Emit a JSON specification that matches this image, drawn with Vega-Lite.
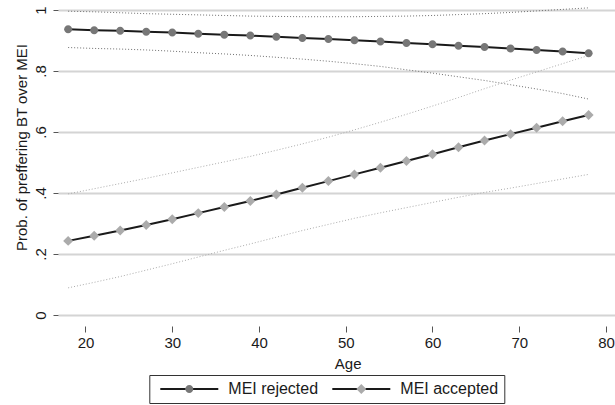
{
  "$schema": "https://vega.github.io/schema/vega-lite/v6.json",
  "width": 557,
  "height": 326,
  "autosize": {"type": "none"},
  "padding": {"left": 58, "top": 0, "right": 0, "bottom": 79},
  "background": "white",
  "config": {
    "font": "Liberation Sans",
    "view": {"stroke": null},
    "axis": {"labelFont": "Liberation Sans", "titleFont": "Liberation Sans", "labelColor": "#1a1a1a", "titleColor": "#1a1a1a", "titleFontWeight": "normal"},
    "legend": {"labelFont": "Liberation Sans"}
  },
  "data": {"values": [
    {"age": 18, "group": "MEI rejected", "p": 0.937, "lo": 0.877, "hi": 0.996},
    {"age": 21, "group": "MEI rejected", "p": 0.934, "lo": 0.874, "hi": 0.994},
    {"age": 24, "group": "MEI rejected", "p": 0.932, "lo": 0.872, "hi": 0.991},
    {"age": 27, "group": "MEI rejected", "p": 0.929, "lo": 0.869, "hi": 0.988},
    {"age": 30, "group": "MEI rejected", "p": 0.926, "lo": 0.865, "hi": 0.986},
    {"age": 33, "group": "MEI rejected", "p": 0.922, "lo": 0.860, "hi": 0.984},
    {"age": 36, "group": "MEI rejected", "p": 0.919, "lo": 0.856, "hi": 0.982},
    {"age": 39, "group": "MEI rejected", "p": 0.916, "lo": 0.851, "hi": 0.980},
    {"age": 42, "group": "MEI rejected", "p": 0.912, "lo": 0.845, "hi": 0.979},
    {"age": 45, "group": "MEI rejected", "p": 0.908, "lo": 0.839, "hi": 0.978},
    {"age": 48, "group": "MEI rejected", "p": 0.905, "lo": 0.832, "hi": 0.978},
    {"age": 51, "group": "MEI rejected", "p": 0.901, "lo": 0.824, "hi": 0.978},
    {"age": 54, "group": "MEI rejected", "p": 0.897, "lo": 0.815, "hi": 0.979},
    {"age": 57, "group": "MEI rejected", "p": 0.892, "lo": 0.804, "hi": 0.980},
    {"age": 60, "group": "MEI rejected", "p": 0.888, "lo": 0.793, "hi": 0.982},
    {"age": 63, "group": "MEI rejected", "p": 0.883, "lo": 0.781, "hi": 0.985},
    {"age": 66, "group": "MEI rejected", "p": 0.879, "lo": 0.769, "hi": 0.988},
    {"age": 69, "group": "MEI rejected", "p": 0.874, "lo": 0.755, "hi": 0.992},
    {"age": 72, "group": "MEI rejected", "p": 0.869, "lo": 0.741, "hi": 0.997},
    {"age": 75, "group": "MEI rejected", "p": 0.864, "lo": 0.726, "hi": 1.002},
    {"age": 78, "group": "MEI rejected", "p": 0.858, "lo": 0.708, "hi": 1.007},
    {"age": 18, "group": "MEI accepted", "p": 0.243, "lo": 0.089, "hi": 0.397},
    {"age": 21, "group": "MEI accepted", "p": 0.260, "lo": 0.107, "hi": 0.414},
    {"age": 24, "group": "MEI accepted", "p": 0.277, "lo": 0.126, "hi": 0.431},
    {"age": 27, "group": "MEI accepted", "p": 0.295, "lo": 0.147, "hi": 0.448},
    {"age": 30, "group": "MEI accepted", "p": 0.314, "lo": 0.168, "hi": 0.466},
    {"age": 33, "group": "MEI accepted", "p": 0.334, "lo": 0.190, "hi": 0.484},
    {"age": 36, "group": "MEI accepted", "p": 0.354, "lo": 0.212, "hi": 0.502},
    {"age": 39, "group": "MEI accepted", "p": 0.374, "lo": 0.233, "hi": 0.520},
    {"age": 42, "group": "MEI accepted", "p": 0.395, "lo": 0.255, "hi": 0.540},
    {"age": 45, "group": "MEI accepted", "p": 0.417, "lo": 0.277, "hi": 0.561},
    {"age": 48, "group": "MEI accepted", "p": 0.439, "lo": 0.297, "hi": 0.583},
    {"age": 51, "group": "MEI accepted", "p": 0.461, "lo": 0.317, "hi": 0.607},
    {"age": 54, "group": "MEI accepted", "p": 0.483, "lo": 0.335, "hi": 0.632},
    {"age": 57, "group": "MEI accepted", "p": 0.505, "lo": 0.352, "hi": 0.658},
    {"age": 60, "group": "MEI accepted", "p": 0.527, "lo": 0.369, "hi": 0.685},
    {"age": 63, "group": "MEI accepted", "p": 0.550, "lo": 0.386, "hi": 0.713},
    {"age": 66, "group": "MEI accepted", "p": 0.572, "lo": 0.402, "hi": 0.742},
    {"age": 69, "group": "MEI accepted", "p": 0.593, "lo": 0.416, "hi": 0.770},
    {"age": 72, "group": "MEI accepted", "p": 0.614, "lo": 0.431, "hi": 0.797},
    {"age": 75, "group": "MEI accepted", "p": 0.635, "lo": 0.446, "hi": 0.824},
    {"age": 78, "group": "MEI accepted", "p": 0.656, "lo": 0.461, "hi": 0.851}
  ]},
  "encoding": {
    "x": {
      "field": "age", "type": "quantitative",
      "scale": {"domain": [16.83, 81.04], "nice": false, "zero": false},
      "axis": {
        "values": [20, 30, 40, 50, 60, 70, 80], "grid": false, "domain": false,
        "tickSize": 6, "tickColor": "#555555", "tickWidth": 1,
        "labelFontSize": 15, "labelPadding": 3, "labelFlush": false, "labelOverlap": false,
        "title": "Age", "titleFontSize": 15, "titleX": 289.7, "titleY": 42,
        "titleBaseline": "alphabetic", "titleAlign": "center", "titleAnchor": null
      }
    }
  },
  "layer": [
    {
      "transform": [{"filter": "datum.group === 'MEI rejected'"}],
      "mark": {"type": "line", "strokeWidth": 1, "strokeDash": [1, 2], "color": "#707070"},
      "encoding": {
        "y": {
          "field": "lo", "type": "quantitative",
          "scale": {"domain": [-0.0361, 1.0328], "nice": false, "zero": false},
          "axis": {
            "values": [0, 0.2, 0.4, 0.6, 0.8, 1], "grid": true, "gridColor": "#d4d4d4", "gridWidth": 2,
            "domain": false, "tickSize": 5, "tickColor": "#555555", "tickWidth": 1,
            "labelAngle": -90, "labelAlign": "center", "labelBaseline": "alphabetic",
            "labelFontSize": 15, "labelPadding": 8,
            "labelExpr": "datum.value == 0 ? '0' : datum.value == 1 ? '1' : replace(format(datum.value, '.1f'), '0.', '.')",
            "title": "Prob. of preffering BT over MEI", "titleFontSize": 15, "titleAngle": -90,
            "titleX": -32, "titleY": 147, "titleAlign": "center", "titleBaseline": "alphabetic", "titleAnchor": null
          }
        }
      }
    },
    {
      "transform": [{"filter": "datum.group === 'MEI rejected'"}],
      "mark": {"type": "line", "strokeWidth": 1, "strokeDash": [1, 2], "color": "#707070"},
      "encoding": {"y": {"field": "hi", "type": "quantitative"}}
    },
    {
      "transform": [{"filter": "datum.group === 'MEI accepted'"}],
      "mark": {"type": "line", "strokeWidth": 1, "strokeDash": [1, 2], "color": "#ababab"},
      "encoding": {"y": {"field": "lo", "type": "quantitative"}}
    },
    {
      "transform": [{"filter": "datum.group === 'MEI accepted'"}],
      "mark": {"type": "line", "strokeWidth": 1, "strokeDash": [1, 2], "color": "#ababab"},
      "encoding": {"y": {"field": "hi", "type": "quantitative"}}
    },
    {
      "mark": {"type": "line", "strokeWidth": 2},
      "encoding": {
        "y": {"field": "p", "type": "quantitative"},
        "stroke": {
          "field": "group", "type": "nominal",
          "scale": {"domain": ["MEI rejected", "MEI accepted"], "range": ["#1a1a1a", "#1a1a1a"]},
          "legend": {
            "title": null, "orient": "none", "legendX": 91.3, "legendY": 375,
            "direction": "horizontal", "columns": 2, "columnPadding": 9,
            "padding": 6, "strokeColor": "#333333",
            "symbolType": "M-1,0H-0.12M0.12,0H1", "symbolSize": 3364, "symbolStrokeWidth": 2,
            "symbolOffset": 4, "labelOffset": 9, "clipHeight": 16,
            "labelFontSize": 16, "labelColor": "#1a1a1a"
          }
        }
      }
    },
    {
      "mark": {"type": "point", "filled": true, "opacity": 1, "size": 3364},
      "encoding": {
        "y": {"field": "p", "type": "quantitative"},
        "color": {"field": "group", "type": "nominal",
          "scale": {"range": ["#ababab", "#777777"]},
          "legend": {
            "values": ["MEI rejected", "MEI accepted"],
            "title": null, "orient": "none", "legendX": 91.3, "legendY": 375,
            "direction": "horizontal", "columns": 2, "columnPadding": 9,
            "padding": 6, "strokeColor": null,
            "symbolSize": 3364, "symbolStrokeWidth": 2, "symbolStrokeColor": "transparent",
            "symbolOffset": 4, "labelOffset": 9, "clipHeight": 16,
            "labelFontSize": 16, "labelOpacity": 0
          }},
        "shape": {"field": "group", "type": "nominal",
          "scale": {"range": [
            "M0,-0.172L0.172,0L0,0.172L-0.172,0Z",
            "M-0.138,0A0.138,0.138,0,1,1,0.138,0A0.138,0.138,0,1,1,-0.138,0Z"
          ]}}
      }
    }
  ]
}
